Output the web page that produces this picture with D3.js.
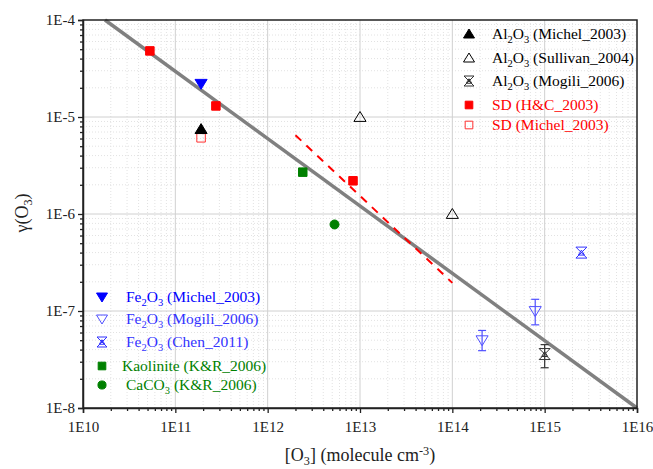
<!DOCTYPE html>
<html><head><meta charset="utf-8">
<script src="https://cdn.jsdelivr.net/npm/d3@7"></script>
<style>body{margin:0;background:#fff}</style>
</head><body><svg id="c" width="653" height="469"></svg>
<script>
// ---- data: [O3] (molecule cm-3), gamma(O3), optional [low, high] error ----
const xTickValues = [1e10, 1e11, 1e12, 1e13, 1e14, 1e15, 1e16];
const xTickLabels = ["1E10", "1E11", "1E12", "1E13", "1E14", "1E15", "1E16"];
const yTickValues = [1e-8, 1e-7, 1e-6, 1e-5, 1e-4];
const yTickLabels = ["1E-8", "1E-7", "1E-6", "1E-5", "1E-4"];

const al2o3Michel   = [[1.9e11, 7.5e-6]];
const al2o3Sullivan = [[1e13, 1e-5], [1e14, 1e-6]];
const al2o3Mogili   = [[1e15, 3.6e-8, 2.6e-8, 4.5e-8]];
const sdHC          = [[5.3e10, 4.8e-5], [2.75e11, 1.3e-5], [8.4e12, 2.2e-6]];
const sdMichel      = [[1.9e11, 6.1e-6]];
const fe2o3Michel   = [[1.9e11, 2.2e-5]];
const fe2o3Mogili   = [[2.1e14, 5.0e-8, 3.9e-8, 6.3e-8], [7.9e14, 1.0e-7, 7.2e-8, 1.32e-7]];
const fe2o3Chen     = [[2.5e15, 4.0e-7]];
const kaolinite     = [[2.4e12, 2.7e-6]];
const caco3         = [[5.3e12, 7.8e-7]];
const fitLine       = [[1.73e10, 1e-4], [1e16, 1e-8]];
const dashedFit     = [[2.0e12, 6.5e-6], [1.0e14, 1.95e-7]];

const FONT = "'Liberation Serif'";
const svg = d3.select("#c");
const L = 83, R = 637, T = 20, B = 408;
const x = d3.scaleLog().domain([1e10, 1e16]).range([L, R]);
const y = d3.scaleLog().domain([1e-8, 1e-4]).range([B, T]);

const xMinor = [], yMinor = [];
for (let e = 10; e < 16; e++) for (let k = 2; k <= 9; k++) xMinor.push(k * Math.pow(10, e));
for (let e = -8; e < -4; e++) for (let k = 2; k <= 9; k++) yMinor.push(k * Math.pow(10, e));

// grids
const g = svg.append("g");
g.selectAll(".xm").data(xMinor).join("line").attr("x1", d => x(d)).attr("x2", d => x(d))
  .attr("y1", T).attr("y2", B).attr("stroke", "#e2e2e2").attr("stroke-dasharray", "1,2");
g.selectAll(".ym").data(yMinor).join("line").attr("y1", d => y(d)).attr("y2", d => y(d))
  .attr("x1", L).attr("x2", R).attr("stroke", "#e2e2e2").attr("stroke-dasharray", "1,2");
g.selectAll(".xM").data(xTickValues.slice(1, -1)).join("line").attr("x1", d => x(d)).attr("x2", d => x(d))
  .attr("y1", T).attr("y2", B).attr("stroke", "#d0d0d0").attr("stroke-width", 1);
g.selectAll(".yM").data(yTickValues.slice(1, -1)).join("line").attr("y1", d => y(d)).attr("y2", d => y(d))
  .attr("x1", L).attr("x2", R).attr("stroke", "#d0d0d0").attr("stroke-width", 1);

// lines
const line = d3.line().x(d => x(d[0])).y(d => y(d[1]));
svg.append("path").attr("d", line(fitLine)).attr("stroke", "#808080").attr("stroke-width", 3.5).attr("fill", "none");
svg.append("path").attr("d", line(dashedFit)).attr("stroke", "#ff0000").attr("stroke-width", 2)
  .attr("stroke-dasharray", "8,7").attr("fill", "none");

function symPath(type, s) {
  switch (type) {
    case "up": return `M0,${-s}L${s*1.1},${s*0.8}L${-s*1.1},${s*0.8}Z`;
    case "down": return `M0,${s}L${s*1.1},${-s*0.8}L${-s*1.1},${-s*0.8}Z`;
    case "square": return `M${-s*0.85},${-s*0.85}h${s*1.7}v${s*1.7}h${-s*1.7}Z`;
    case "circle": return d3.symbol(d3.symbolCircle, Math.PI * (s*0.9) * (s*0.9))();
    case "xhour": return `M${-s},${-s}L${s},${s}M${s},${-s}L${-s},${s}M${-s},${-s}H${s}M${-s},${s}H${s}` +
      `M0,${-s*0.45}L${s*0.55},${s*0.45}L${-s*0.55},${s*0.45}Z`;
  }
}
function drawSeries(data, type, color, filled, size, errColor) {
  const grp = svg.append("g");
  grp.selectAll("g.e").data(data.filter(d => d.length > 2)).join("g").each(function(d) {
    const e = d3.select(this), cx = x(d[0]);
    e.append("line").attr("x1", cx).attr("x2", cx).attr("y1", y(d[2])).attr("y2", y(d[3]));
    e.append("line").attr("x1", cx - 4).attr("x2", cx + 4).attr("y1", y(d[2])).attr("y2", y(d[2]));
    e.append("line").attr("x1", cx - 4).attr("x2", cx + 4).attr("y1", y(d[3])).attr("y2", y(d[3]));
    e.selectAll("line").attr("stroke", errColor || color).attr("stroke-width", 1.2);
  });
  grp.selectAll("path").data(data).join("path")
    .attr("transform", d => `translate(${x(d[0])},${y(d[1])})`)
    .attr("d", symPath(type, size))
    .attr("fill", filled ? color : "#fff").attr("fill-opacity", filled ? 1 : 0)
    .attr("stroke", color).attr("stroke-width", 1);
}
drawSeries(sdHC, "square", "#ff0000", true, 5);
drawSeries(sdMichel, "square", "#ff3030", false, 5);
drawSeries(al2o3Michel, "up", "#000", true, 5.5);
drawSeries(al2o3Sullivan, "up", "#000", false, 5.5);
drawSeries(fe2o3Michel, "down", "#0000ff", true, 5.5);
drawSeries(fe2o3Mogili, "down", "#5050ff", false, 5.5);
drawSeries(al2o3Mogili, "xhour", "#333", false, 5.5);
drawSeries(fe2o3Chen, "xhour", "#3333ff", false, 5.5);
drawSeries(kaolinite, "square", "#008000", true, 5);
drawSeries(caco3, "circle", "#008000", true, 5);

// axes
const fmtX = d => xTickLabels[xTickValues.indexOf(d)];
const fmtY = d => yTickLabels[yTickValues.indexOf(d)];
svg.append("g").attr("transform", `translate(0,${B})`)
  .call(d3.axisBottom(x).tickValues(xTickValues).tickFormat(fmtX).tickSize(5).tickPadding(8));
svg.append("g").attr("transform", `translate(0,${B})`)
  .call(d3.axisBottom(x).tickValues(xMinor).tickFormat("").tickSize(3)).select(".domain").remove();
svg.append("g").attr("transform", `translate(${L},0)`)
  .call(d3.axisLeft(y).tickValues(yTickValues).tickFormat(fmtY).tickSize(5).tickPadding(3));
svg.append("g").attr("transform", `translate(${L},0)`)
  .call(d3.axisLeft(y).tickValues(yMinor).tickFormat("").tickSize(3)).select(".domain").remove();
svg.selectAll(".tick line").attr("stroke", "#222").attr("stroke-width", 1.3);
svg.selectAll(".domain").attr("stroke", "#222").attr("stroke-width", 1.5);
svg.selectAll(".tick text").style("font-family", FONT).attr("font-size", 15).attr("fill", "#222");
svg.append("rect").attr("x", L).attr("y", T).attr("width", R - L).attr("height", B - T)
  .attr("fill", "none").attr("stroke", "#222").attr("stroke-width", 1.5);

function rich(sel, parts) {
  sel.style("font-family", FONT);
  let state = 0;
  parts.forEach(p => {
    if (Array.isArray(p)) { sel.append("tspan").attr("font-size", "0.68em").attr("dy", 4 - state).text(p[0]); state = 4; }
    else if (typeof p === "object") { sel.append("tspan").attr("font-size", "0.68em").attr("dy", -6 - state).text(p.sup); state = -6; }
    else { sel.append("tspan").attr("dy", -state).text(p); state = 0; }
  });
}

const xt = svg.append("text").attr("x", 360).attr("y", 461).attr("text-anchor", "middle").attr("font-size", 18).attr("fill", "#222");
rich(xt, ["[O", ["3"], "] (molecule cm", {sup: "-3"}, ")"]);
const yt = svg.append("text").attr("transform", "translate(28,213) rotate(-90)").attr("text-anchor", "middle").attr("font-size", 18).attr("fill", "#222");
rich(yt, ["γ(O", ["3"], ")"]);

const legTR = [
  {type: "up", color: "#000", filled: true, tc: "#000", label: ["Al", ["2"], "O", ["3"], " (Michel_2003)"], yy: 34},
  {type: "up", color: "#000", filled: false, tc: "#000", label: ["Al", ["2"], "O", ["3"], " (Sullivan_2004)"], yy: 58},
  {type: "xhour", color: "#333", filled: false, tc: "#000", label: ["Al", ["2"], "O", ["3"], " (Mogili_2006)"], yy: 81},
  {type: "square", color: "#ff0000", filled: true, tc: "#ff0000", label: ["SD (H&C_2003)"], yy: 105},
  {type: "square", color: "#ff3030", filled: false, tc: "#ff0000", label: ["SD (Michel_2003)"], yy: 125},
];
const legBL = [
  {type: "down", color: "#0000ff", filled: true, tc: "#0000ff", label: ["Fe", ["2"], "O", ["3"], " (Michel_2003)"], yy: 297, tx: 126},
  {type: "down", color: "#5050ff", filled: false, tc: "#3333ff", label: ["Fe", ["2"], "O", ["3"], " (Mogili_2006)"], yy: 319, tx: 126},
  {type: "xhour", color: "#3333ff", filled: false, tc: "#3333ff", label: ["Fe", ["2"], "O", ["3"], " (Chen_2011)"], yy: 342, tx: 126},
  {type: "square", color: "#008000", filled: true, tc: "#008000", label: ["Kaolinite (K&R_2006)"], yy: 366, tx: 122},
  {type: "circle", color: "#008000", filled: true, tc: "#008000", label: ["CaCO", ["3"], " (K&R_2006)"], yy: 385, tx: 126},
];
function legend(items, sx, tx0) {
  items.forEach(it => {
    svg.append("path").attr("transform", `translate(${sx},${it.yy})`).attr("d", symPath(it.type, it.type === "square" || it.type === "circle" ? 4.5 : 5))
      .attr("fill", it.filled ? it.color : "none").attr("stroke", it.color).attr("stroke-width", 1);
    const t = svg.append("text").attr("x", it.tx || tx0).attr("y", it.yy + 5).attr("font-size", 15.5).attr("fill", it.tc);
    rich(t, it.label);
  });
}
legend(legTR, 469, 492);
legend(legBL, 102, 126);
</script></body></html>
